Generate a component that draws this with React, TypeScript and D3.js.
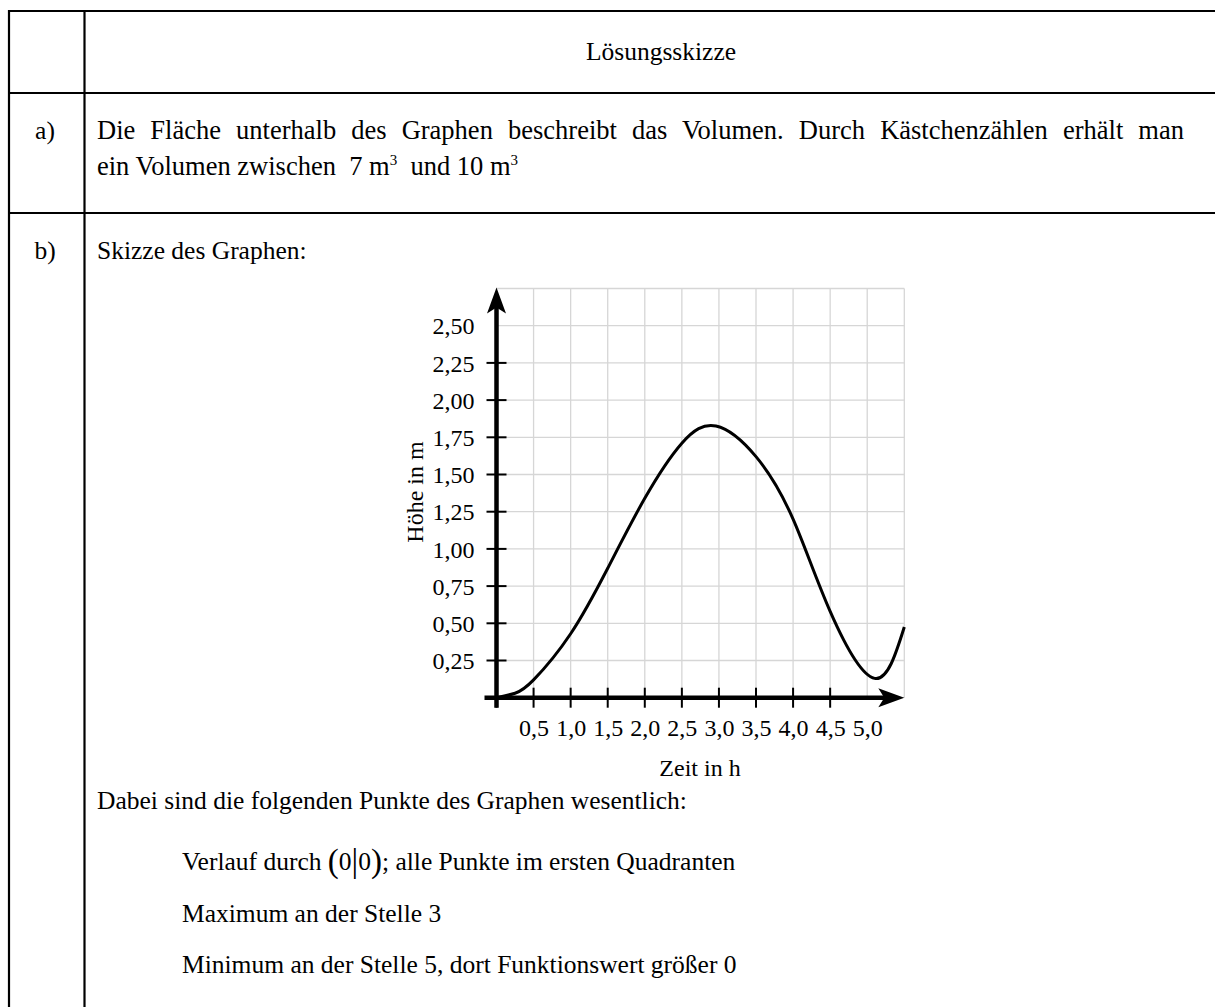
import React, { useEffect, useRef } from 'react'
import * as d3 from 'd3'

// Kurve (Zeit in h -> Höhe in m)
const curveX = [0, 0.25, 0.5, 1.0, 1.5, 2.0, 2.5, 2.96, 3.5, 4.0, 4.5, 5.1, 5.5]
const curveY = [0, 0.03, 0.12, 0.43, 0.87, 1.34, 1.71, 1.826, 1.62, 1.20, 0.58, 0.13, 0.475]

const gridX = [0.5, 1.0, 1.5, 2.0, 2.5, 3.0, 3.5, 4.0, 4.5, 5.0, 5.5]
const gridY = [0.25, 0.5, 0.75, 1.0, 1.25, 1.5, 1.75, 2.0, 2.25, 2.5, 2.75]
const xTickMarks = [0, 0.5, 1.0, 1.5, 2.0, 2.5, 3.0, 3.5, 4.0, 4.5]
const xTickLabels = [0.5, 1.0, 1.5, 2.0, 2.5, 3.0, 3.5, 4.0, 4.5, 5.0]
const yTickMarks = [0, 0.25, 0.5, 0.75, 1.0, 1.25, 1.5, 1.75, 2.0, 2.25]
const yTickLabels = [0.25, 0.5, 0.75, 1.0, 1.25, 1.5, 1.75, 2.0, 2.25, 2.5]

const header = 'Lösungsskizze'
const rowA = 'Die Fläche unterhalb des Graphen beschreibt das Volumen. Durch Kästchenzählen erhält man'
const rowB = 'Skizze des Graphen:'
const rowBIntro = 'Dabei sind die folgenden Punkte des Graphen wesentlich:'
const points = ['Maximum an der Stelle 3', 'Minimum an der Stelle 5, dort Funktionswert größer 0']

const FONT = '"Liberation Serif", "Times New Roman", serif'
const FS = 25.5
const FS_A = 26.5

const App = () => {
  const ref = useRef<SVGSVGElement>(null)

  useEffect(() => {
    const svg = d3.select(ref.current)
    svg.selectAll('*').remove()

    const txt = (x: number, y: number, s: string, size: number, anchor = 'start') =>
      svg.append('text')
        .attr('x', x).attr('y', y)
        .attr('text-anchor', anchor)
        .attr('font-family', FONT)
        .attr('font-size', size)
        .attr('fill', '#000')
        .text(s)

    // Tabelle
    const border = svg.append('g').attr('stroke', '#000').attr('stroke-width', 2.2)
    border.append('line').attr('x1', 8).attr('x2', 1215).attr('y1', 11).attr('y2', 11)
    border.append('line').attr('x1', 8).attr('x2', 1215).attr('y1', 93).attr('y2', 93)
    border.append('line').attr('x1', 8).attr('x2', 1215).attr('y1', 213).attr('y2', 213)
    border.append('line').attr('x1', 9).attr('x2', 9).attr('y1', 10).attr('y2', 1007)
    border.append('line').attr('x1', 84.5).attr('x2', 84.5).attr('y1', 10).attr('y2', 1007)

    txt(661, 60, header, FS, 'middle')

    txt(45, 139, 'a)', FS, 'middle')
    // Blocksatz: Wortabstand so setzen, dass die Zeile bis x=1184 reicht
    const l1 = txt(97, 139, rowA, FS_A)
    const natural = (l1.node() as SVGTextElement).getComputedTextLength()
    const spaces = rowA.split(' ').length - 1
    l1.attr('word-spacing', Math.max(0, (1184 - 97 - natural) / spaces))
    const l2 = txt(97, 175, 'ein Volumen zwischen\u00a0 7 m', FS_A)
    l2.append('tspan').attr('font-size', 15).attr('dy', -10).text('3')
    l2.append('tspan').attr('dy', 10).text('\u00a0 und 10 m')
    l2.append('tspan').attr('font-size', 15).attr('dy', -10).text('3')

    txt(45, 259, 'b)', FS, 'middle')
    txt(97, 259, rowB, FS)

    txt(97, 809, rowBIntro, FS)
    const v = txt(182, 870, 'Verlauf durch ', FS)
    v.append('tspan').attr('font-size', 33).attr('dy', 2).text('(')
    v.append('tspan').attr('font-size', FS).attr('dy', -2).text('0')
    v.append('tspan').attr('font-size', 33).attr('dy', 2).text('|')
    v.append('tspan').attr('font-size', FS).attr('dy', -2).text('0')
    v.append('tspan').attr('font-size', 33).attr('dy', 2).text(')')
    v.append('tspan').attr('font-size', FS).attr('dy', -2).text('; alle Punkte im ersten Quadranten')
    points.forEach((p, i) => txt(182, 922 + i * 51, p, FS))

    // Diagramm
    const x = d3.scaleLinear().domain([0, 5.5]).range([496.5, 904.3])
    const y = d3.scaleLinear().domain([0, 2.75]).range([697.7, 288.5])
    const fmt = (d: number, dec: number) => d.toFixed(dec).replace('.', ',')

    const grid = svg.append('g').attr('stroke', '#d6d6d6').attr('stroke-width', 1.3)
    grid.selectAll('.gx').data(gridX).enter().append('line')
      .attr('x1', d => x(d)).attr('x2', d => x(d)).attr('y1', y(0)).attr('y2', y(2.75))
    grid.selectAll('.gy').data(gridY).enter().append('line')
      .attr('x1', x(0)).attr('x2', x(5.5)).attr('y1', d => y(d)).attr('y2', d => y(d))

    // Tick-Striche
    svg.append('g').selectAll('line').data(xTickMarks).enter().append('line')
      .attr('x1', d => x(d)).attr('x2', d => x(d)).attr('y1', y(0) - 10).attr('y2', y(0) + 10)
      .attr('stroke', '#000').attr('stroke-width', 2)
    svg.append('g').selectAll('line').data(yTickMarks).enter().append('line')
      .attr('x1', x(0) - 10).attr('x2', x(0) + 10).attr('y1', d => y(d)).attr('y2', d => y(d))
      .attr('stroke', '#000').attr('stroke-width', 2)

    // Beschriftung über d3-Achsen
    const gx = svg.append('g').attr('transform', `translate(0,${y(0)})`)
      .call(d3.axisBottom(x).tickValues(xTickLabels).tickSize(0).tickFormat(d => fmt(+d, 1)))
    gx.select('.domain').remove()
    gx.selectAll('text').attr('y', 38).attr('dy', null)
      .attr('font-family', FONT).attr('font-size', 24).attr('fill', '#000')

    const gy = svg.append('g').attr('transform', `translate(${x(0)},0)`)
      .call(d3.axisLeft(y).tickValues(yTickLabels).tickSize(0).tickFormat(d => fmt(+d, 2)))
    gy.select('.domain').remove()
    gy.selectAll('text').attr('x', -22).attr('dy', '0.34em')
      .attr('font-family', FONT).attr('font-size', 24).attr('fill', '#000')

    // Achsen mit Pfeilen
    svg.append('line').attr('x1', x(0) - 12).attr('x2', x(5.5) - 18).attr('y1', y(0)).attr('y2', y(0))
      .attr('stroke', '#000').attr('stroke-width', 4.5)
    svg.append('line').attr('x1', x(0)).attr('x2', x(0)).attr('y1', y(0) + 10).attr('y2', y(2.75) + 18)
      .attr('stroke', '#000').attr('stroke-width', 4.5)
    const tx = x(5.5), ty = y(0)
    svg.append('path').attr('d', `M${tx},${ty} L${tx - 26},${ty - 9.5} L${tx - 20},${ty} L${tx - 26},${ty + 9.5} Z`).attr('fill', '#000')
    const ax = x(0), ay = y(2.75) - 1
    svg.append('path').attr('d', `M${ax},${ay} L${ax - 9.5},${ay + 26} L${ax},${ay + 20} L${ax + 9.5},${ay + 26} Z`).attr('fill', '#000')

    // Kurve
    const line = d3.line<number>().x(d => x(d)).y((d, i) => y(curveY[i])).curve(d3.curveNatural)
    svg.append('path').attr('d', line(curveX)).attr('fill', 'none').attr('stroke', '#000').attr('stroke-width', 3)

    // Achsentitel
    svg.append('text').attr('x', 700).attr('y', 776).attr('text-anchor', 'middle')
      .attr('font-family', FONT).attr('font-size', 24).text('Zeit in h')
    svg.append('text').attr('transform', 'translate(423,492) rotate(-90)').attr('text-anchor', 'middle')
      .attr('font-family', FONT).attr('font-size', 24).text('Höhe in m')
  }, [])

  return (
    <div style={{ position: 'absolute', left: 0, top: 0 }}>
      <svg ref={ref} width={1215} height={1007} style={{ display: 'block', background: '#fff' }} />
    </div>
  )
}

export default App
